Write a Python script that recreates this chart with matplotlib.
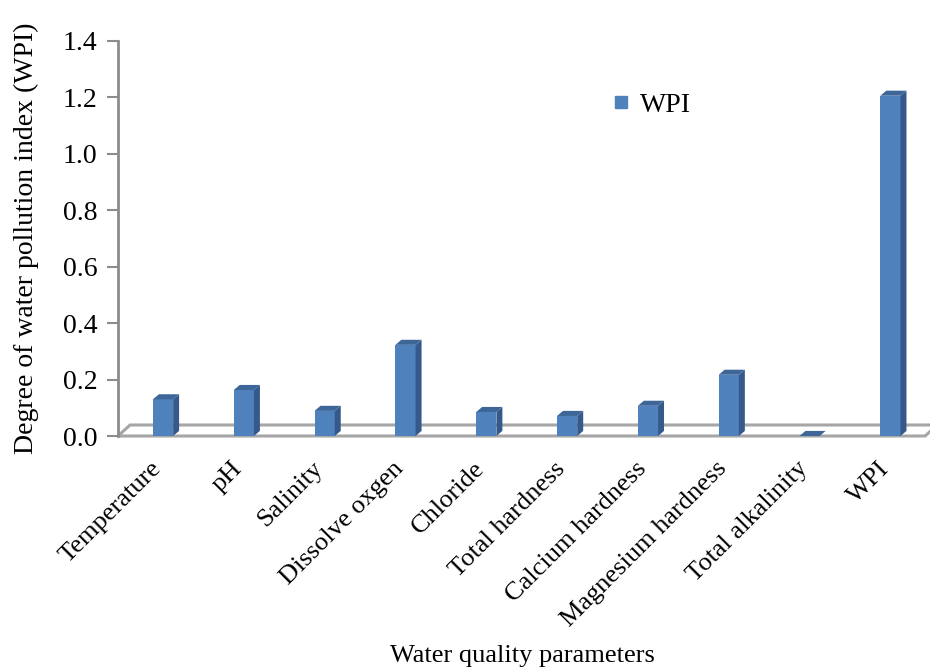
import numpy as np
import matplotlib.pyplot as plt
from matplotlib.patches import Polygon
from matplotlib.lines import Line2D
from matplotlib.transforms import ScaledTranslation

params = ['Temperature', 'pH', 'Salinity', 'Dissolve oxgen', 'Chloride',
          'Total hardness', 'Calcium hardness', 'Magnesium hardness',
          'Total alkalinity', 'WPI']
wpi = [0.130, 0.163, 0.089, 0.323, 0.085, 0.071, 0.107, 0.217, 0.0, 1.206]
yticks = [0.0, 0.2, 0.4, 0.6, 0.8, 1.0, 1.2, 1.4]

plt.rcParams['font.family'] = ['Liberation Serif', 'DejaVu Serif']

fig = plt.figure(figsize=(9.3, 6.7), dpi=100)
ax = fig.add_axes([118 / 930, 234 / 670, 812 / 930, 395 / 670])
x = np.arange(len(params))
x_lo, x_hi = -0.557, 9.49
ax.set_xlim(x_lo, x_hi)
ax.set_ylim(0, 1.4)

# fake 3d: depth of bars and floor in data units
bw = 0.25
bdx, bdy = 0.074, 0.018
fdx, fdy = 0.149, 0.039

front = '#4F81BD'
side = '#34598A'
top = '#3E6699'
grey = '#8C8C8C'

# floor plane
floor_end = 9.43
ax.add_patch(Polygon([(x_lo, 0), (floor_end, 0), (floor_end + fdx, fdy), (x_lo + fdx, fdy)],
                     closed=True, fill=False, ec='#A6A6A6', lw=2.2, clip_on=False, zorder=1))

ax.bar(x, wpi, width=bw, color=front, zorder=3)
for xi, v in zip(x, wpi):
    x0, x1 = xi - bw / 2, xi + bw / 2
    ax.add_patch(Polygon([(x1, 0), (x1 + bdx, bdy), (x1 + bdx, v + bdy), (x1, v)],
                         fc=side, ec='none', zorder=3, clip_on=False))
    ax.add_patch(Polygon([(x0, v), (x1, v), (x1 + bdx, v + bdy), (x0 + bdx, v + bdy)],
                         fc=top, ec='none', zorder=3, clip_on=False))

for s in ['top', 'right', 'bottom']:
    ax.spines[s].set_visible(False)
ax.spines['left'].set_color(grey)
ax.spines['left'].set_linewidth(2)

ax.set_yticks(yticks)
ax.set_yticklabels([f'{t:.1f}' for t in yticks])
ax.tick_params(axis='y', direction='out', length=8, width=1.5, color=grey, pad=7, labelsize=20)
ax.set_xticks(x)
ax.set_xticklabels(params, rotation=45, ha='right', va='center', rotation_mode='anchor', fontsize=19)
ax.tick_params(axis='x', length=0, pad=21)
shift = ScaledTranslation(-5 / 100, 0, fig.dpi_scale_trans)
for lab in ax.get_xticklabels():
    lab.set_transform(lab.get_transform() + shift)

handles = [Line2D([], [], marker='s', ls='', color=front, markersize=8)]
fig.legend(handles, ['WPI'], loc='center left', bbox_to_anchor=(596 / 930, 1 - 105 / 670),
           frameon=False, fontsize=20, handletextpad=0.3, borderpad=0, handlelength=0.8)

fig.text(26 / 930, 1 - 238 / 670, 'Degree of water pollution index (WPI)',
         rotation=90, ha='center', va='center', fontsize=20)
fig.text(522 / 930, 1 - 656 / 670, 'Water quality parameters',
         ha='center', va='center', fontsize=19)

fig.savefig('out.png', dpi=100)
